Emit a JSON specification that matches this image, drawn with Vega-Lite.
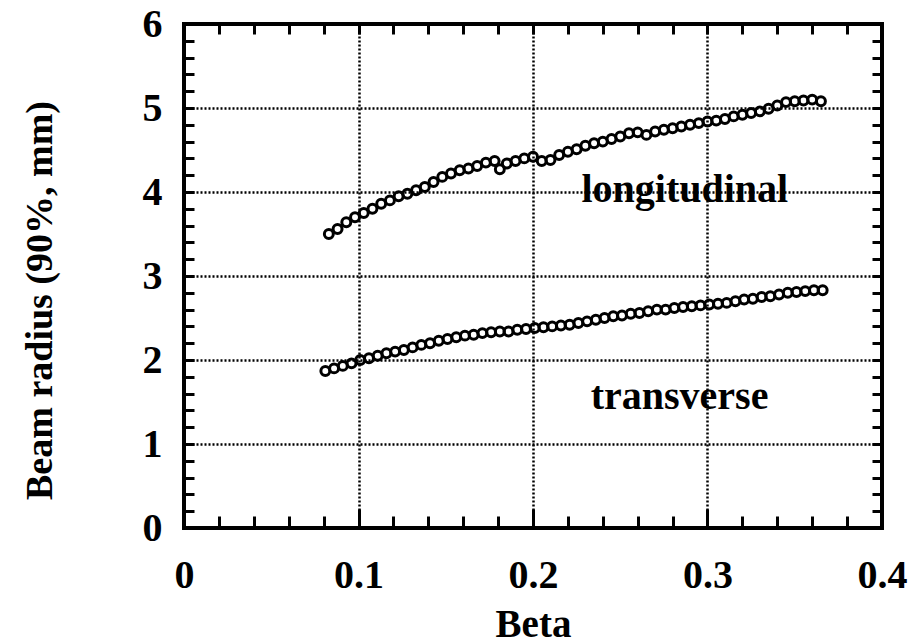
{
  "$schema": "https://vega.github.io/schema/vega-lite/v6.json",
  "autosize": {"type": "none"},
  "padding": {"left": 184, "top": 24, "right": 30, "bottom": 115},
  "width": 698,
  "height": 504,
  "background": "white",
  "config": {
    "view": {"stroke": "black", "strokeWidth": 4},
    "font": "Liberation Serif",
    "axis": {"domain": false}
  },
  "datasets": {
    "longitudinal": [
      {"beta": 0.083, "r": 3.50}, {"beta": 0.088, "r": 3.56}, {"beta": 0.093, "r": 3.64}, {"beta": 0.098, "r": 3.70},
      {"beta": 0.103, "r": 3.75}, {"beta": 0.108, "r": 3.80}, {"beta": 0.113, "r": 3.86}, {"beta": 0.118, "r": 3.90},
      {"beta": 0.123, "r": 3.95}, {"beta": 0.128, "r": 3.98}, {"beta": 0.133, "r": 4.02}, {"beta": 0.138, "r": 4.06},
      {"beta": 0.143, "r": 4.12}, {"beta": 0.148, "r": 4.18}, {"beta": 0.153, "r": 4.22}, {"beta": 0.158, "r": 4.26},
      {"beta": 0.163, "r": 4.28}, {"beta": 0.168, "r": 4.31}, {"beta": 0.173, "r": 4.35}, {"beta": 0.178, "r": 4.37},
      {"beta": 0.181, "r": 4.27}, {"beta": 0.185, "r": 4.34}, {"beta": 0.190, "r": 4.37}, {"beta": 0.195, "r": 4.40},
      {"beta": 0.200, "r": 4.42}, {"beta": 0.205, "r": 4.37}, {"beta": 0.210, "r": 4.38}, {"beta": 0.215, "r": 4.44},
      {"beta": 0.220, "r": 4.48}, {"beta": 0.225, "r": 4.51}, {"beta": 0.230, "r": 4.55}, {"beta": 0.235, "r": 4.58},
      {"beta": 0.240, "r": 4.60}, {"beta": 0.245, "r": 4.63}, {"beta": 0.250, "r": 4.66}, {"beta": 0.255, "r": 4.70},
      {"beta": 0.260, "r": 4.71}, {"beta": 0.265, "r": 4.68}, {"beta": 0.270, "r": 4.72}, {"beta": 0.275, "r": 4.74},
      {"beta": 0.280, "r": 4.76}, {"beta": 0.285, "r": 4.78}, {"beta": 0.290, "r": 4.80}, {"beta": 0.295, "r": 4.82},
      {"beta": 0.300, "r": 4.84}, {"beta": 0.305, "r": 4.85}, {"beta": 0.310, "r": 4.87}, {"beta": 0.315, "r": 4.90},
      {"beta": 0.320, "r": 4.92}, {"beta": 0.325, "r": 4.94}, {"beta": 0.330, "r": 4.96}, {"beta": 0.335, "r": 4.99},
      {"beta": 0.340, "r": 5.03}, {"beta": 0.345, "r": 5.07}, {"beta": 0.350, "r": 5.08}, {"beta": 0.355, "r": 5.09},
      {"beta": 0.360, "r": 5.10}, {"beta": 0.365, "r": 5.08}
    ],
    "transverse": [
      {"beta": 0.081, "r": 1.87}, {"beta": 0.086, "r": 1.90}, {"beta": 0.091, "r": 1.93}, {"beta": 0.096, "r": 1.96},
      {"beta": 0.101, "r": 2.00}, {"beta": 0.106, "r": 2.02}, {"beta": 0.111, "r": 2.05}, {"beta": 0.116, "r": 2.08},
      {"beta": 0.121, "r": 2.10}, {"beta": 0.126, "r": 2.12}, {"beta": 0.131, "r": 2.15}, {"beta": 0.136, "r": 2.18},
      {"beta": 0.141, "r": 2.20}, {"beta": 0.146, "r": 2.23}, {"beta": 0.151, "r": 2.25}, {"beta": 0.156, "r": 2.27},
      {"beta": 0.161, "r": 2.29}, {"beta": 0.166, "r": 2.30}, {"beta": 0.171, "r": 2.32}, {"beta": 0.176, "r": 2.33},
      {"beta": 0.181, "r": 2.34}, {"beta": 0.186, "r": 2.34}, {"beta": 0.191, "r": 2.36}, {"beta": 0.196, "r": 2.37},
      {"beta": 0.201, "r": 2.38}, {"beta": 0.206, "r": 2.39}, {"beta": 0.211, "r": 2.40}, {"beta": 0.216, "r": 2.41},
      {"beta": 0.221, "r": 2.42}, {"beta": 0.226, "r": 2.44}, {"beta": 0.231, "r": 2.46}, {"beta": 0.236, "r": 2.48},
      {"beta": 0.241, "r": 2.50}, {"beta": 0.246, "r": 2.52}, {"beta": 0.251, "r": 2.53}, {"beta": 0.256, "r": 2.55},
      {"beta": 0.261, "r": 2.56}, {"beta": 0.266, "r": 2.58}, {"beta": 0.271, "r": 2.60}, {"beta": 0.276, "r": 2.60},
      {"beta": 0.281, "r": 2.62}, {"beta": 0.286, "r": 2.63}, {"beta": 0.291, "r": 2.64}, {"beta": 0.296, "r": 2.65},
      {"beta": 0.301, "r": 2.66}, {"beta": 0.306, "r": 2.67}, {"beta": 0.311, "r": 2.68}, {"beta": 0.316, "r": 2.70},
      {"beta": 0.321, "r": 2.72}, {"beta": 0.326, "r": 2.73}, {"beta": 0.331, "r": 2.75}, {"beta": 0.336, "r": 2.76},
      {"beta": 0.341, "r": 2.78}, {"beta": 0.346, "r": 2.80}, {"beta": 0.351, "r": 2.81}, {"beta": 0.356, "r": 2.82},
      {"beta": 0.361, "r": 2.83}, {"beta": 0.366, "r": 2.83}
    ],
    "labels": [
      {"name": "longitudinal", "beta": 0.287, "r": 4.02},
      {"name": "transverse", "beta": 0.284, "r": 1.56}
    ]
  },
  "resolve": {"axis": {"x": "independent", "y": "independent"}},
  "layer": [
    {
      "data": {"name": "longitudinal"},
      "mark": {"type": "point", "filled": false, "color": "black", "size": 80, "strokeWidth": 3, "opacity": 1},
      "encoding": {
        "x": {
          "field": "beta", "type": "quantitative",
          "scale": {"domain": [0, 0.4], "nice": false, "zero": false},
          "axis": {
            "orient": "bottom",
            "title": "Beta",
            "titleFont": "Liberation Serif", "titleFontSize": 39, "titleFontWeight": "bold",
            "titleX": 349, "titleY": 96, "titleBaseline": "middle", "titleAlign": "center",
            "values": [0, 0.1, 0.2, 0.3, 0.4],
            "format": "~g",
            "labelFont": "Liberation Serif", "labelFontSize": 40, "labelFontWeight": "bold", "labelColor": "black",
            "labelPadding": 27, "labelOverlap": false, "labelBound": false, "labelFlush": false,
            "ticks": false,
            "grid": true, "gridColor": "black", "gridWidth": 2.5, "gridDash": [2, 2]
          }
        },
        "y": {
          "field": "r", "type": "quantitative",
          "scale": {"domain": [0, 6], "nice": false, "zero": false},
          "axis": {
            "orient": "left",
            "title": "Beam radius (90%, mm)",
            "titleFont": "Liberation Serif", "titleFontSize": 38, "titleFontWeight": "bold",
            "titleX": -144, "titleY": 276, "titleAngle": -90, "titleBaseline": "middle", "titleAlign": "center",
            "values": [0, 1, 2, 3, 4, 5, 6],
            "format": "d",
            "labelFont": "Liberation Serif", "labelFontSize": 40, "labelFontWeight": "bold", "labelColor": "black",
            "labelPadding": 22, "labelOverlap": false, "labelBound": false, "labelFlush": false,
            "ticks": false,
            "grid": true, "gridColor": "black", "gridWidth": 2.5, "gridDash": [2, 2]
          }
        }
      }
    },
    {
      "data": {"name": "transverse"},
      "mark": {"type": "point", "filled": false, "color": "black", "size": 80, "strokeWidth": 3, "opacity": 1},
      "encoding": {
        "x": {
          "field": "beta", "type": "quantitative",
          "axis": {
            "orient": "bottom", "title": null, "labels": false, "grid": false, "offset": -19,
            "values": [0.1, 0.2, 0.3],
            "tickColor": "black", "tickWidth": 3, "tickSize": 19
          }
        },
        "y": {
          "field": "r", "type": "quantitative",
          "axis": {
            "orient": "left", "title": null, "labels": false, "grid": false, "offset": -10,
            "values": [0.2, 0.4, 0.6, 0.8, 1, 1.2, 1.4, 1.6, 1.8, 2, 2.2, 2.4, 2.6, 2.8, 3, 3.2, 3.4, 3.6, 3.8, 4, 4.2, 4.4, 4.6, 4.8, 5, 5.2, 5.4, 5.6, 5.8],
            "tickColor": "black", "tickWidth": 3, "tickSize": 10
          }
        }
      }
    },
    {
      "data": {"name": "labels"},
      "transform": [{"filter": "datum.name === 'longitudinal'"}],
      "mark": {"type": "text", "font": "Liberation Serif", "fontSize": 40, "fontWeight": "bold", "color": "black", "align": "center", "baseline": "middle"},
      "encoding": {
        "text": {"field": "name"},
        "x": {
          "field": "beta", "type": "quantitative",
          "axis": {
            "orient": "bottom", "title": null, "labels": false, "grid": false, "offset": -12,
            "values": [0.02, 0.04, 0.06, 0.08, 0.12, 0.14, 0.16, 0.18, 0.22, 0.24, 0.26, 0.28, 0.32, 0.34, 0.36, 0.38],
            "tickColor": "black", "tickWidth": 3, "tickSize": 12
          }
        },
        "y": {
          "field": "r", "type": "quantitative",
          "axis": {
            "orient": "right", "title": null, "labels": false, "grid": false, "offset": -10,
            "values": [0.2, 0.4, 0.6, 0.8, 1, 1.2, 1.4, 1.6, 1.8, 2, 2.2, 2.4, 2.6, 2.8, 3, 3.2, 3.4, 3.6, 3.8, 4, 4.2, 4.4, 4.6, 4.8, 5, 5.2, 5.4, 5.6, 5.8],
            "tickColor": "black", "tickWidth": 3, "tickSize": 10
          }
        }
      }
    },
    {
      "data": {"name": "labels"},
      "transform": [{"filter": "datum.name === 'transverse'"}],
      "mark": {"type": "text", "font": "Liberation Serif", "fontSize": 40, "fontWeight": "bold", "color": "black", "align": "center", "baseline": "middle"},
      "encoding": {
        "text": {"field": "name"},
        "x": {
          "field": "beta", "type": "quantitative",
          "axis": {
            "orient": "top", "title": null, "labels": false, "grid": false, "offset": -10,
            "values": [0.02, 0.04, 0.06, 0.08, 0.1, 0.12, 0.14, 0.16, 0.18, 0.2, 0.22, 0.24, 0.26, 0.28, 0.3, 0.32, 0.34, 0.36, 0.38],
            "tickColor": "black", "tickWidth": 3, "tickSize": 10
          }
        },
        "y": {"field": "r", "type": "quantitative", "axis": null}
      }
    }
  ]
}
